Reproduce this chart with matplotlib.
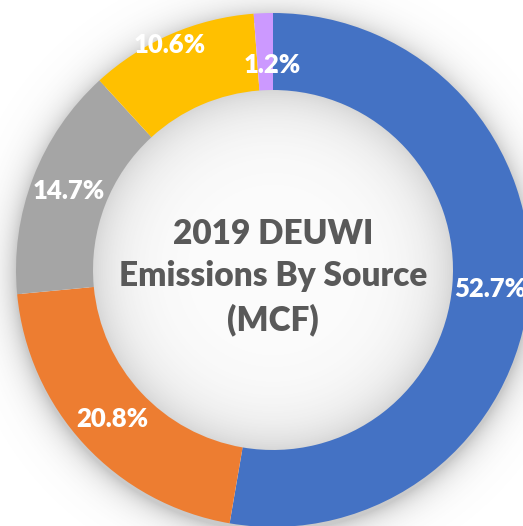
import numpy as np
import matplotlib.pyplot as plt

# 数据
sources = ['A', 'B', 'C', 'D', 'E']
shares = [52.7, 20.8, 14.7, 10.6, 1.2]
colors = ['#4472C4', '#ED7D31', '#A5A5A5', '#FFC000', '#CC99FF']
title = '2019 DEUWI\nEmissions By Source\n(MCF)'

W, H = 523, 526
cx, cy = 273, 270          # 圆心（像素，y 向下）
r_out, r_in = 257, 180

plt.rcParams['font.family'] = ['Lato', 'DejaVu Sans']

fig = plt.figure(figsize=(W / 100, H / 100), dpi=100)
ax = fig.add_axes([0, 0, 1, 1])
ax.set_xlim(0, W)
ax.set_ylim(0, H)
ax.set_aspect('equal')
ax.axis('off')

# 阴影（外圈 + 内圈）
yy, xx = np.mgrid[0:H, 0:W] + 0.5
r_outer = np.hypot(xx - cx, yy - cy - 4)
r = np.hypot(xx - cx, yy - cy)
alpha = np.zeros_like(r)
m = r_outer > r_out - 5
alpha[m] = 0.32 * np.exp(-np.clip(r_outer[m] - r_out, 0, None) / 13.0)
m2 = r < r_in + 5
alpha[m2] = 0.22 * np.exp(-np.clip(r_in - r[m2], 0, None) / 28.0) + 0.02
shadow = np.zeros((H, W, 4))
shadow[..., :3] = 0.35
shadow[..., 3] = alpha
ax.imshow(shadow, extent=(0, W, 0, H), origin='upper', zorder=0, interpolation='bilinear')

wedges, texts, autotexts = ax.pie(
    shares, colors=colors, startangle=90, counterclock=False,
    radius=r_out, center=(cx, H - cy),
    wedgeprops=dict(width=r_out - r_in, linewidth=0),
    autopct='%.1f%%', pctdistance=(r_out + r_in) / 2 / r_out,
    textprops=dict(color='white', fontsize=18.5, fontweight='heavy'))
for w in wedges:
    w.set_zorder(2)

# Excel 把两个小标签挪开了一点
nudges = {3: (-16, 24), 4: (8, -13)}
for i, (dx, dy) in nudges.items():
    x, y = autotexts[i].get_position()
    autotexts[i].set_position((x + dx, y + dy))
for t in autotexts:
    t.set_zorder(3)

ax.text(cx, H - 277, title, ha='center', va='center', fontsize=24,
        fontweight='heavy', color='#595959', linespacing=1.4, zorder=3)

ax.set_xlim(0, W)
ax.set_ylim(0, H)
fig.savefig('out.png', dpi=100)
